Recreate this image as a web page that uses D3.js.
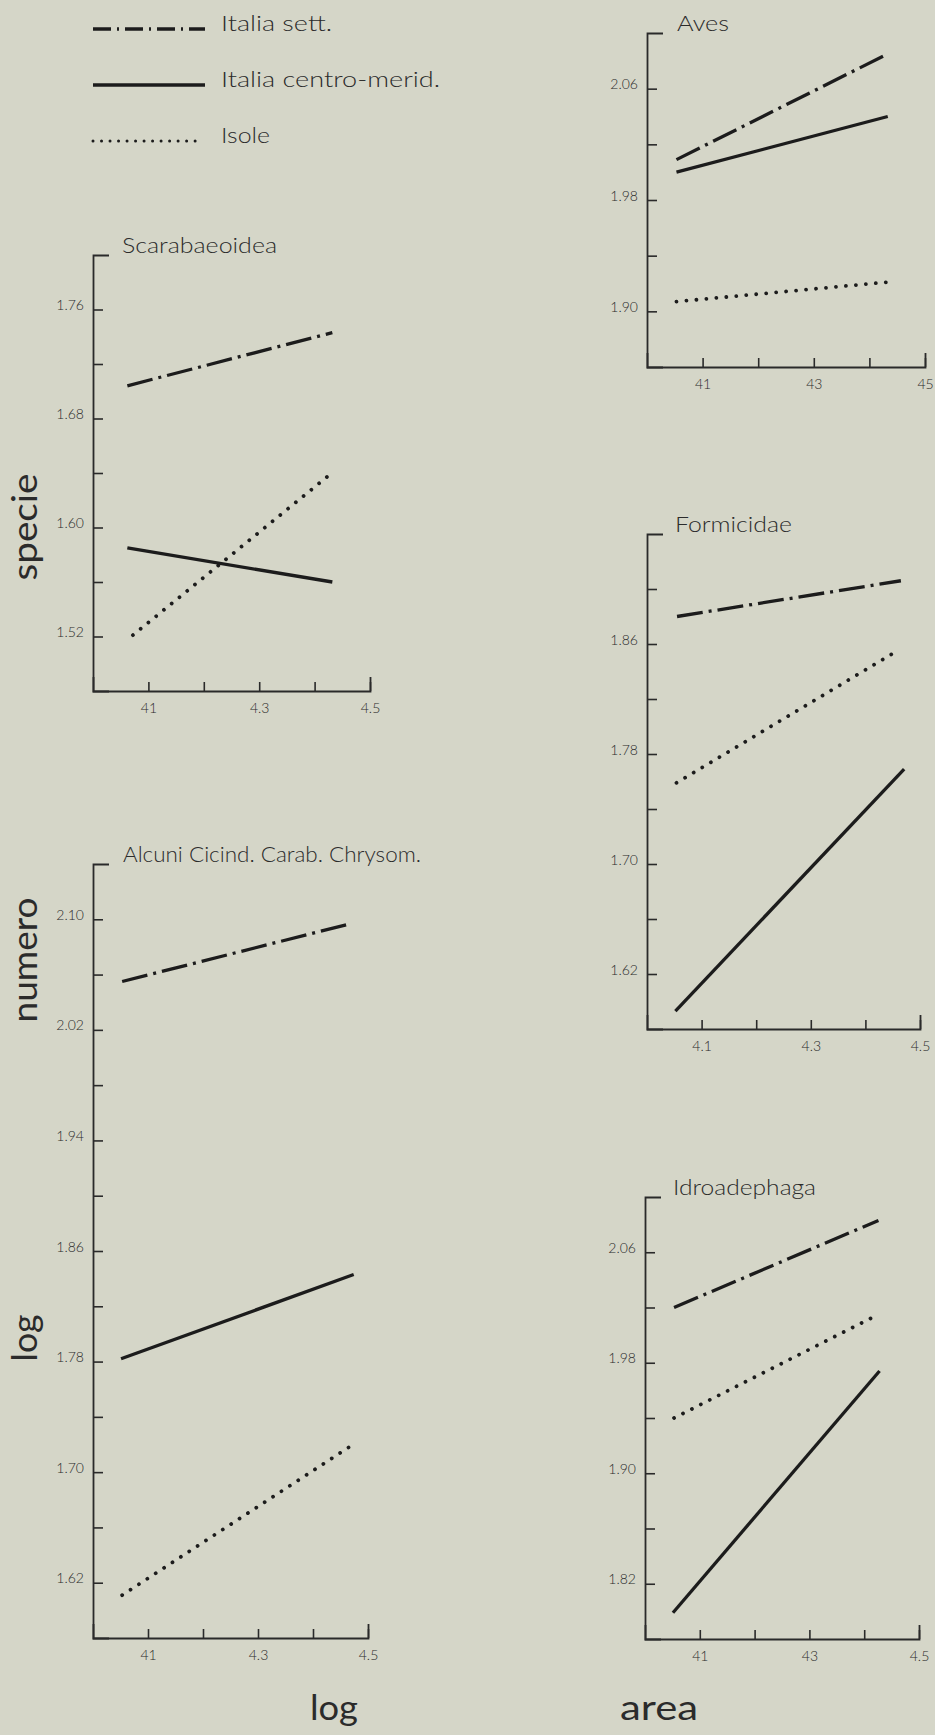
<!DOCTYPE html>
<html>
<head>
<meta charset="utf-8">
<script src="https://cdn.jsdelivr.net/npm/d3@7/dist/d3.min.js"></script>
<style>
  html, body { margin: 0; padding: 0; background: #d5d6c8; }
  svg { display: block; }
  text { font-family: Lato, "Open Sans", sans-serif; fill: #2b2b2b; }
</style>
</head>
<body>
<svg id="chart"></svg>
<script>
// gruppi della legenda
var groups = ["Italia sett.", "Italia centro-merid.", "Isole"];

// rette per gruppo (ordine di groups): estremi [log area, log numero specie]
var aves = [
    [[4.053, 2.009], [4.433, 2.085]],
    [[4.053, 2.000], [4.433, 2.040]],
    [[4.053, 1.907], [4.433, 1.921]]
];
var scarabaeoidea = [
    [[4.062, 1.704], [4.432, 1.743]],
    [[4.062, 1.585], [4.432, 1.560]],
    [[4.072, 1.521], [4.428, 1.639]]
];
var formicidae = [
    [[4.055, 1.880], [4.465, 1.906]],
    [[4.052, 1.593], [4.471, 1.769]],
    [[4.054, 1.759], [4.454, 1.854]]
];
var alcuni = [
    [[4.053, 2.055], [4.470, 2.097]],
    [[4.051, 1.782], [4.474, 1.843]],
    [[4.053, 1.611], [4.469, 1.719]]
];
var idroadephaga = [
    [[4.053, 2.020], [4.426, 2.083]],
    [[4.051, 1.799], [4.428, 1.974]],
    [[4.053, 1.940], [4.426, 2.015]]
];

// assi
var xDomain = [4.0, 4.5];
var xTicks = [4.1, 4.3, 4.5];
var avesXLabels = ["41", "43", "45"];
var scarabXLabels = ["41", "4.3", "4.5"];
var formicXLabels = ["4.1", "4.3", "4.5"];
var alcuniXLabels = ["41", "4.3", "4.5"];
var idroXLabels = ["41", "43", "4.5"];

var avesYDomain = [1.86, 2.10];
var scarabYDomain = [1.48, 1.80];
var formicYDomain = [1.58, 1.94];
var alcuniYDomain = [1.58, 2.14];
var idroYDomain = [1.78, 2.10];

var avesYLabels = ["2.06", "1.98", "1.90"];
var scarabYLabels = ["1.76", "1.68", "1.60", "1.52"];
var formicYLabels = ["1.86", "1.78", "1.70", "1.62"];
var alcuniYLabels = ["2.10", "2.02", "1.94", "1.86", "1.78", "1.70", "1.62"];
var idroYLabels = ["2.06", "1.98", "1.90", "1.82"];

// posizione dei riquadri
var panels = [
    {title: "Aves", lines: aves, xLabels: avesXLabels, yDomain: avesYDomain, yLabels: avesYLabels,
        left: 647, right: 925, top: 33, bottom: 367, titleX: 677, titleW: 52},
    {title: "Scarabaeoidea", lines: scarabaeoidea, xLabels: scarabXLabels, yDomain: scarabYDomain, yLabels: scarabYLabels,
        left: 93, right: 370, top: 255, bottom: 691, titleX: 122, titleW: 155},
    {title: "Formicidae", lines: formicidae, xLabels: formicXLabels, yDomain: formicYDomain, yLabels: formicYLabels,
        left: 647, right: 920, top: 534, bottom: 1029, titleX: 675, titleW: 117},
    {title: "Alcuni Cicind. Carab. Chrysom.", lines: alcuni, xLabels: alcuniXLabels, yDomain: alcuniYDomain, yLabels: alcuniYLabels,
        left: 93, right: 368, top: 864, bottom: 1638, titleX: 123, titleW: 298},
    {title: "Idroadephaga", lines: idroadephaga, xLabels: idroXLabels, yDomain: idroYDomain, yLabels: idroYLabels,
        left: 645, right: 919, top: 1197, bottom: 1639, titleX: 673, titleW: 143}
];

var lineStyles = [
    {dash: "26 6 3 6", width: 3.3, cap: "butt"},
    {dash: null, width: 3.3, cap: "butt"},
    {dash: "0.01 10", width: 3.8, cap: "round"}
];

var svg = d3.select("#chart").attr("width", 935).attr("height", 1735);

/**
 * un riquadro: assi, titolo, tre rette
 */
var drawPanel = function (p) {
    var x = d3.scaleLinear().domain(xDomain).range([p.left, p.right]);
    var y = d3.scaleLinear().domain(p.yDomain).range([p.bottom, p.top]);
    var g = svg.append("g");

    // tacche ogni 0.04, etichette solo dove previste
    var yTicks = d3.range(p.yDomain[0] + 0.04, p.yDomain[1] - 0.01, 0.04).map(function (v) {
        return Math.round(v * 100) / 100;
    });
    var yAxis = d3.axisLeft(y)
        .tickValues(yTicks)
        .tickSizeInner(-10)
        .tickSizeOuter(-16)
        .tickPadding(9)
        .tickFormat(function (d) {
            var lab = p.yLabels.find(function (s) { return Math.abs(+s - d) < 1e-6; });
            return lab || "";
        });
    var ya = g.append("g")
        .attr("transform", "translate(" + p.left + ",0)")
        .attr("color", "#2a2a2a")
        .call(yAxis);

    var xAxis = d3.axisBottom(x)
        .tickValues([4.1, 4.2, 4.3, 4.4, 4.5])
        .tickSizeInner(-9)
        .tickSizeOuter(-14)
        .tickPadding(12)
        .tickFormat(function (d) {
            var i = xTicks.findIndex(function (t) { return Math.abs(t - d) < 1e-6; });
            return i < 0 ? "" : p.xLabels[i];
        });
    var xa = g.append("g")
        .attr("transform", "translate(0," + p.bottom + ")")
        .attr("color", "#2a2a2a")
        .call(xAxis);

    [ya, xa].forEach(function (a) {
        a.attr("font-family", "Lato, sans-serif").attr("font-size", 14);
        a.select(".domain").attr("stroke-width", 1.8);
        a.selectAll(".tick line").attr("stroke-width", 1.6);
        a.selectAll(".tick text").attr("fill", "#6a6a6a").attr("font-weight", 300);
    });
    ya.selectAll(".tick text").attr("dy", "0em");

    g.append("text")
        .attr("x", p.titleX)
        .attr("y", p.top - 2)
        .attr("font-size", 21)
        .attr("font-weight", 300)
        .attr("textLength", p.titleW)
        .attr("lengthAdjust", "spacingAndGlyphs")
        .text(p.title);

    var line = d3.line()
        .x(function (d) { return x(d[0]); })
        .y(function (d) { return y(d[1]); });
    g.selectAll("path.serie")
        .data(p.lines)
        .enter()
        .append("path")
        .attr("class", "serie")
        .attr("d", line)
        .attr("fill", "none")
        .attr("stroke", "#1c1c1c")
        .attr("stroke-width", function (d, i) { return lineStyles[i].width; })
        .attr("stroke-linecap", function (d, i) { return lineStyles[i].cap; })
        .attr("stroke-dasharray", function (d, i) { return lineStyles[i].dash; });
};

/**
 * legenda in alto a sinistra
 */
var drawLegend = function () {
    var legendY = [29, 85, 141];
    var legendW = [111, 219, 49];
    var lg = svg.append("g");
    var styles = [
        {dash: "18 6 2 6", width: 3.3, cap: "butt", x2: 205},
        {dash: null, width: 3.3, cap: "butt", x2: 205},
        {dash: "0.01 8.5", width: 3, cap: "round", x2: 200}
    ];
    groups.forEach(function (name, i) {
        lg.append("line")
            .attr("x1", 93).attr("x2", styles[i].x2)
            .attr("y1", legendY[i]).attr("y2", legendY[i])
            .attr("stroke", "#1c1c1c")
            .attr("stroke-width", styles[i].width)
            .attr("stroke-linecap", styles[i].cap)
            .attr("stroke-dasharray", styles[i].dash);
        lg.append("text")
            .attr("x", 221)
            .attr("y", legendY[i] + 2)
            .attr("font-size", 21)
            .attr("font-weight", 300)
            .attr("textLength", legendW[i])
            .attr("lengthAdjust", "spacingAndGlyphs")
            .text(name);
    });
};

/**
 * titoli degli assi: "log numero specie" / "log area"
 */
var drawAxisTitles = function () {
    var vertical = [["specie", 527, 107], ["numero", 960, 125], ["log", 1338, 47]];
    vertical.forEach(function (v) {
        svg.append("text")
            .attr("transform", "translate(37," + v[1] + ") rotate(-90)")
            .attr("text-anchor", "middle")
            .attr("font-size", 35)
            .attr("textLength", v[2])
            .attr("lengthAdjust", "spacingAndGlyphs")
            .text(v[0]);
    });
    var horizontal = [["log", 334, 48], ["area", 659, 78]];
    horizontal.forEach(function (h) {
        svg.append("text")
            .attr("x", h[1])
            .attr("y", 1720)
            .attr("text-anchor", "middle")
            .attr("font-size", 35)
            .attr("textLength", h[2])
            .attr("lengthAdjust", "spacingAndGlyphs")
            .text(h[0]);
    });
};

drawLegend();
panels.forEach(drawPanel);
drawAxisTitles();
</script>
</body>
</html>
